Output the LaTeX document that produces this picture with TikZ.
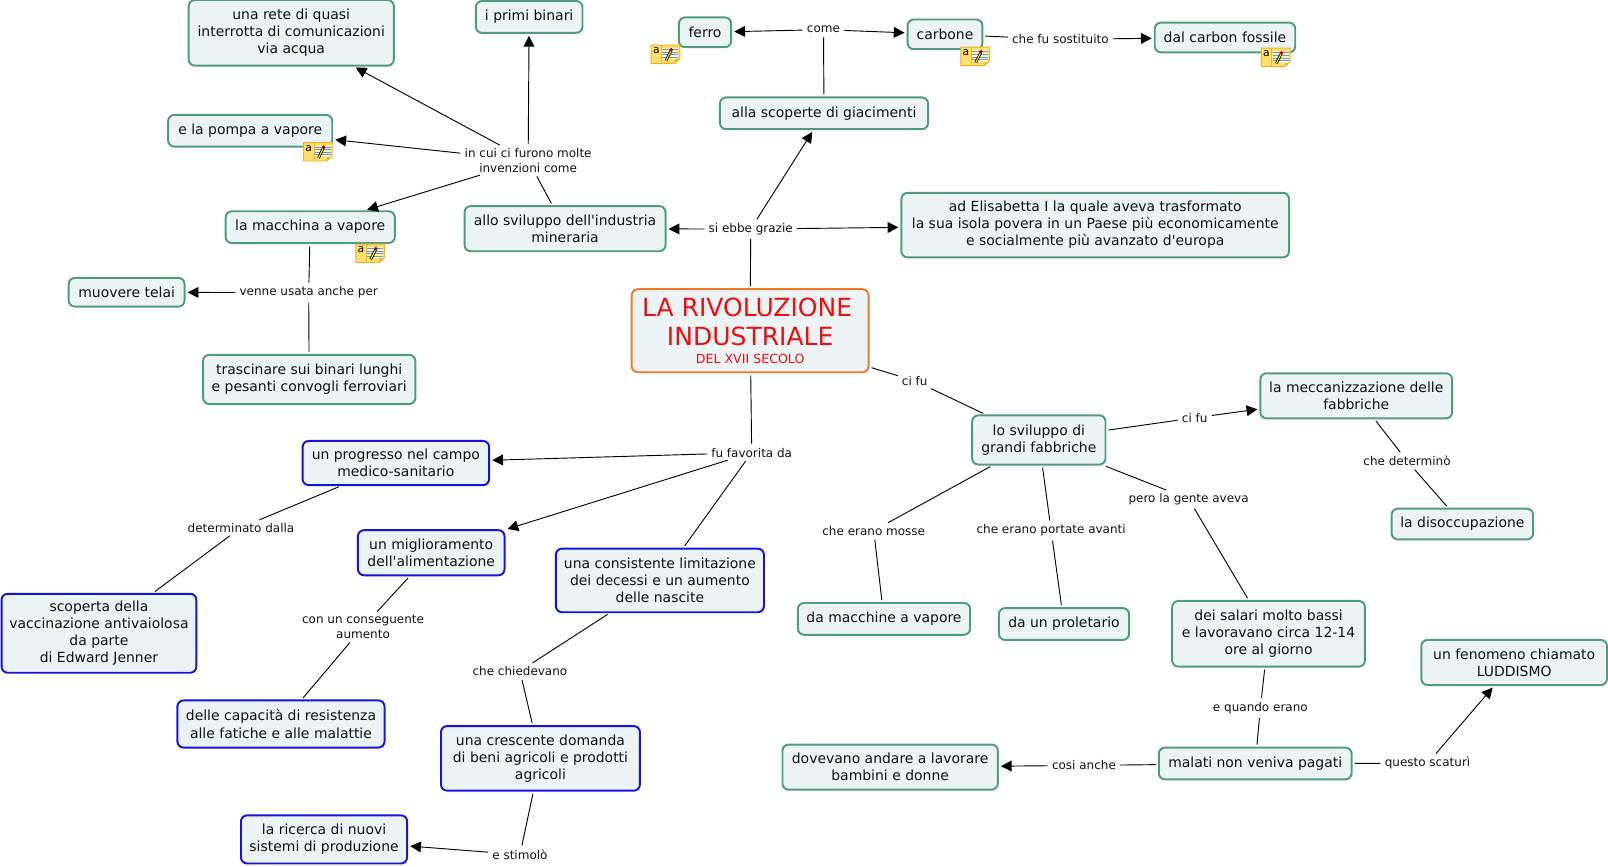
\documentclass[tikz,border=0pt]{standalone}
\usepackage{fontspec}
\newfontfamily\dvf{DejaVu Sans}
\usetikzlibrary{arrows.meta}
\definecolor{cfill}{HTML}{ECF3F5}
\definecolor{cgreen}{HTML}{4E9C7C}
\definecolor{cblue}{HTML}{1414DC}
\definecolor{corange}{HTML}{EA7A2A}
\definecolor{ctext}{HTML}{111111}
\definecolor{cred}{HTML}{E81010}
\definecolor{nyellow}{HTML}{FFDF70}
\definecolor{nedge}{HTML}{EDB422}
\definecolor{nline}{HTML}{5F9BD8}
\tikzset{
 box/.style={rectangle,rounded corners=6pt,fill=cfill,line width=1.9pt,align=center,text=ctext,inner sep=0pt,font=\dvf\fontsize{13.6}{16.6}\selectfont},
 gbox/.style={box,draw=cgreen},
 bbox/.style={box,draw=cblue},
 obox/.style={box,draw=corange,text=cred,font=\dvf\fontsize{24.4}{28}\selectfont},
 lab/.style={rectangle,align=center,text=ctext,inner sep=2pt,yshift=-0.4pt,font=\dvf\fontsize{11.7}{14.2}\selectfont},
 lnk/.style={draw=black,line width=0.9pt,shorten <=2pt,shorten >=2pt},
 arr/.style={lnk,-{Triangle[length=10.5pt,width=10.5pt]}},
 noteicon/.pic={
  \fill[nyellow,draw=nedge,line width=0.9pt] (0,0) -- (28,0) -- (28,13) -- (23,18) -- (0,18) -- cycle;
  \fill[nedge] (23,18) -- (23,13) -- (28,13) -- cycle;
  \draw[nedge,line width=0.5pt] (10,0) -- (10,18);
  \node[inner sep=0pt,font=\dvf\fontsize{10.5}{10.5}\selectfont,text=black] at (5,5.5) {a};
  \fill[white!60!nyellow] (11,3) rectangle (26.5,14);
  \foreach \yy in {4.5,7,9.5,12} \draw[nline,line width=0.8pt] (11,\yy) -- (26.5,\yy);
  \draw[black,line width=2.6pt] (14.5,15) -- (19.5,5);
  \draw[yellow!90!orange,line width=1.1pt] (14.5,15) -- (19.5,5);
  \fill[red!70!black] (19.5,4.5) circle (1.9pt);
 }
}
\begin{document}
\begin{tikzpicture}[x=1pt,y=-1pt]
\useasboundingbox (0,0) rectangle (1568,845.3);
% concepts
\node[obox,minimum width=231pt,minimum height=81pt] (center) at (731.5,322.5) {LA RIVOLUZIONE\hspace*{6pt}\\INDUSTRIALE\\[-11pt]{\fontsize{12.3}{14}\selectfont DEL XVII SECOLO}};
\node[gbox,minimum width=200pt,minimum height=64pt] (rete) at (284,32) {una rete di quasi\\interrotta di comunicazioni\\via acqua};
\node[gbox,minimum width=104pt,minimum height=31pt] (binari) at (516,16.5) {i primi binari};
\node[gbox,minimum width=160pt,minimum height=31pt] (pompa) at (244,127.5) {e la pompa a vapore};
\node[gbox,minimum width=165pt,minimum height=31pt] (macchina) at (302.5,221.5) {la macchina a vapore};
\node[gbox,minimum width=113pt,minimum height=28pt] (telai) at (123.5,285) {muovere telai};
\node[gbox,minimum width=207pt,minimum height=48pt] (trascinare) at (301.5,370) {trascinare sui binari lunghi\\e pesanti convogli ferroviari};
\node[gbox,minimum width=196pt,minimum height=44pt] (industria) at (551,223) {allo sviluppo dell'industria\\mineraria};
\node[gbox,minimum width=203pt,minimum height=31pt] (giacimenti) at (803.5,110.5) {alla scoperte di giacimenti};
\node[gbox,minimum width=51pt,minimum height=29pt] (ferro) at (687.5,31.5) {ferro};
\node[gbox,minimum width=73pt,minimum height=29pt] (carbone) at (921.5,33.5) {carbone};
\node[gbox,minimum width=137pt,minimum height=29pt] (fossile) at (1194.5,36.5) {dal carbon fossile};
\node[gbox,minimum width=378pt,minimum height=63pt] (elisabetta) at (1068,219.5) {ad Elisabetta I la quale aveva trasformato\\la sua isola povera in un Paese più economicamente\\e socialmente più avanzato d'europa};
\node[gbox,minimum width=130pt,minimum height=48pt] (sviluppo) at (1013,429) {lo sviluppo di\\grandi fabbriche};
\node[gbox,minimum width=187pt,minimum height=44pt] (mecc) at (1322.5,386) {la meccanizzazione delle\\fabbriche};
\node[gbox,minimum width=138pt,minimum height=30pt] (disocc) at (1426,511) {la disoccupazione};
\node[gbox,minimum width=168pt,minimum height=31pt] (damacchine) at (862,603.5) {da macchine a vapore};
\node[gbox,minimum width=127pt,minimum height=31pt] (proletario) at (1037.5,608.5) {da un proletario};
\node[gbox,minimum width=188pt,minimum height=64pt] (salari) at (1237,618) {dei salari molto bassi\\e lavoravano circa 12-14\\ore al giorno};
\node[gbox,minimum width=181pt,minimum height=44pt] (luddismo) at (1476.5,646) {un fenomeno chiamato\\LUDDISMO};
\node[gbox,minimum width=188pt,minimum height=31pt] (malati) at (1224,744.5) {malati non veniva pagati};
\node[gbox,minimum width=210pt,minimum height=44pt] (dovevano) at (868,748) {dovevano andare a lavorare\\bambini e donne};
\node[bbox,minimum width=182pt,minimum height=43pt] (progresso) at (386,451.5) {un progresso nel campo\\medico-sanitario};
\node[bbox,minimum width=143pt,minimum height=44pt] (miglior) at (420.5,539) {un miglioramento\\dell'alimentazione};
\node[bbox,minimum width=203pt,minimum height=62pt] (limitaz) at (643.5,566) {una consistente limitazione\\dei decessi e un aumento\\delle nascite};
\node[bbox,minimum width=190pt,minimum height=77pt] (scoperta) at (96.5,617.5) {scoperta della\\vaccinazione antivaiolosa\\da parte\\di Edward Jenner};
\node[bbox,minimum width=202pt,minimum height=46pt] (capacita) at (274,706) {delle capacità di resistenza\\alle fatiche e alle malattie};
\node[bbox,minimum width=194pt,minimum height=63pt] (crescente) at (527,739.5) {una crescente domanda\\di beni agricoli e prodotti\\agricoli};
\node[bbox,minimum width=162pt,minimum height=47pt] (ricerca) at (316,818.5) {la ricerca di nuovi\\sistemi di produzione};
% linking phrases
\node[lab] (lincui) at (515,156) {in cui ci furono molte\\invenzioni come};
\node[lab] (lcome) at (803,28.5) {come};
\node[lab] (lsost) at (1034,38) {che fu sostituito};
\node[lab] (lgrazie) at (732,223) {si ebbe grazie};
\node[lab] (lvenne) at (301,285) {venne usata anche per};
\node[lab] (lcifu) at (892,371) {ci fu};
\node[lab] (lfavorita) at (733,441) {fu favorita da};
\node[lab] (lcifub) at (1165,407) {ci fu};
\node[lab] (ldeterm) at (1372,449) {che determinò};
\node[lab] (ldalla) at (235,514) {determinato dalla};
\node[lab] (lconseg) at (354,611) {con un conseguente\\aumento};
\node[lab] (lchied) at (507,654) {che chiedevano};
\node[lab] (lstim) at (507,833) {e stimolò};
\node[lab] (lmosse) at (852,517) {che erano mosse};
\node[lab] (lportate) at (1025,517) {che erano portate avanti};
\node[lab] (lpero) at (1159,486) {pero la gente aveva};
\node[lab] (lquando) at (1229,690) {e quando erano};
\node[lab] (lcosi) at (1057,746) {cosi anche};
\node[lab] (lquesto) at (1392,744) {questo scaturì};
% connectors
\draw[lnk] (center) -- (lgrazie);
\draw[arr] (lgrazie) -- (giacimenti);
\draw[arr] (lgrazie) -- (industria);
\draw[arr] (lgrazie) -- (elisabetta);
\draw[lnk] (giacimenti) -- (lcome);
\draw[arr] (lcome) -- (ferro);
\draw[arr] (lcome) -- (carbone);
\draw[lnk] (carbone) -- (lsost);
\draw[arr] (lsost) -- (fossile);
\draw[lnk] (industria) -- (lincui);
\draw[arr] (lincui) -- (rete);
\draw[arr] (lincui) -- (binari);
\draw[arr] (lincui) -- (pompa);
\draw[arr] (lincui) -- (macchina);
\draw[lnk] (macchina) -- (lvenne);
\draw[arr] (lvenne) -- (telai);
\draw[lnk] (lvenne) -- (trascinare);
\draw[lnk] (center) -- (lcifu);
\draw[lnk] (lcifu) -- (sviluppo);
\draw[lnk] (center) -- (lfavorita);
\draw[arr] (lfavorita) -- (progresso);
\draw[arr] (lfavorita) -- (miglior);
\draw[lnk] (lfavorita) -- (limitaz);
\draw[lnk] (sviluppo) -- (lcifub);
\draw[arr] (lcifub) -- (mecc);
\draw[lnk] (mecc) -- (ldeterm);
\draw[lnk] (ldeterm) -- (disocc);
\draw[lnk] (sviluppo) -- (lmosse);
\draw[lnk] (lmosse) -- (damacchine);
\draw[lnk] (sviluppo) -- (lportate);
\draw[lnk] (lportate) -- (proletario);
\draw[lnk] (sviluppo) -- (lpero);
\draw[lnk] (lpero) -- (salari);
\draw[lnk] (salari) -- (lquando);
\draw[lnk] (lquando) -- (malati);
\draw[lnk] (malati) -- (lcosi);
\draw[arr] (lcosi) -- (dovevano);
\draw[lnk] (malati) -- (lquesto);
\draw[arr] (lquesto) -- (luddismo);
\draw[lnk] (progresso) -- (ldalla);
\draw[lnk] (ldalla) -- (scoperta);
\draw[lnk] (miglior) -- (lconseg);
\draw[lnk] (lconseg) -- (capacita);
\draw[lnk] (limitaz) -- (lchied);
\draw[lnk] (lchied) -- (crescente);
\draw[lnk] (crescente) -- (lstim);
\draw[arr] (lstim) -- (ricerca);
% note icons
\pic at (635,44) {noteicon};
\pic at (937,46) {noteicon};
\pic at (1230,47) {noteicon};
\pic at (296,139) {noteicon};
\pic at (347,238) {noteicon};
\end{tikzpicture}
\end{document}
